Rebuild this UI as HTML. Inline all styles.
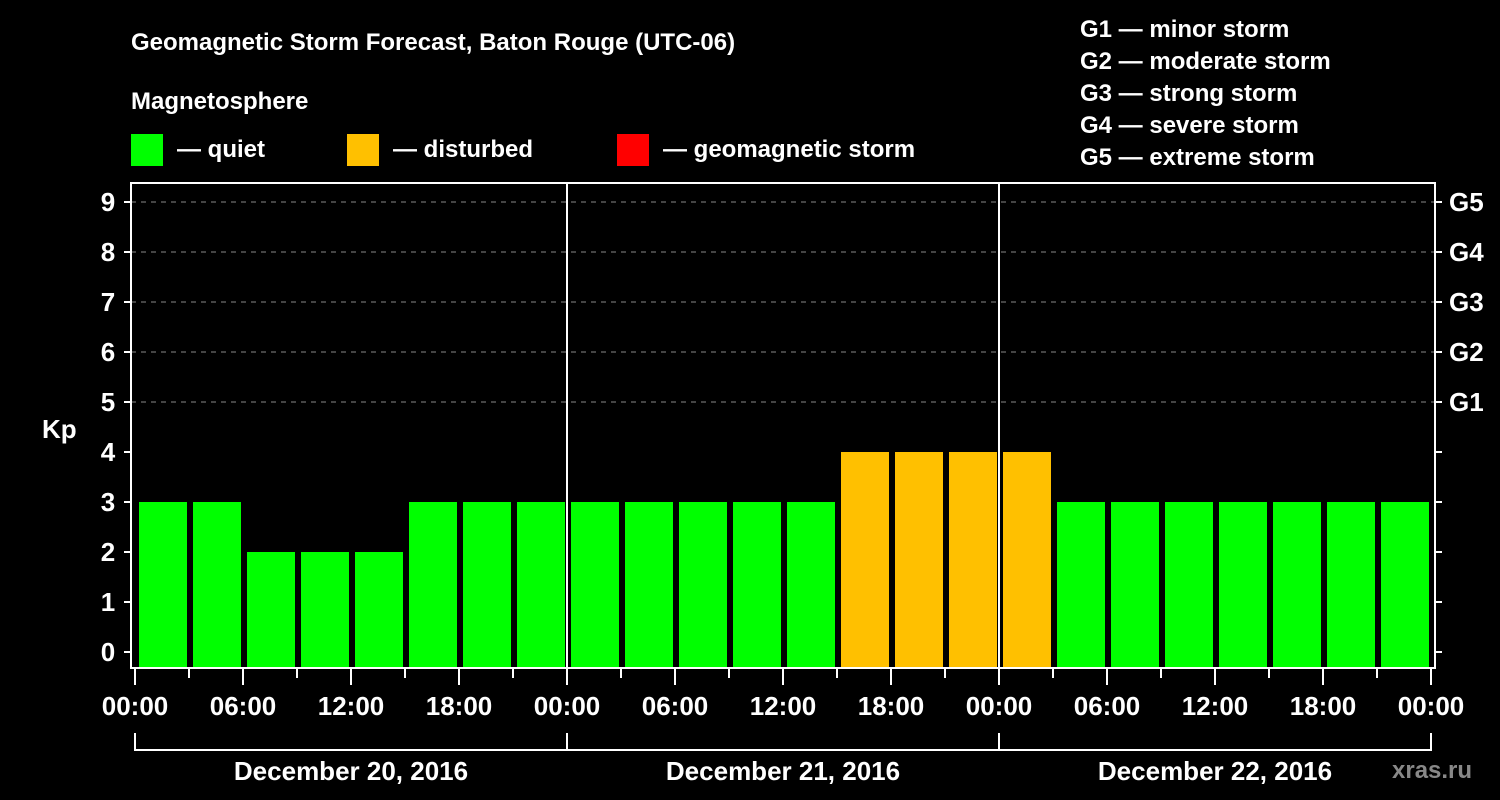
<!DOCTYPE html>
<html><head><meta charset="utf-8"><style>
body{margin:0;background:#000;}
svg{display:block;font-family:"Liberation Sans",Arial,sans-serif;font-weight:bold;}
</style></head><body>
<svg id="chart" width="1500" height="800" viewBox="0 0 1500 800">
<rect width="1500" height="800" fill="#000"/>
<text x="131" y="50" fill="#fff" font-size="24">Geomagnetic Storm Forecast, Baton Rouge (UTC-06)</text>
<text x="131" y="109" fill="#fff" font-size="24">Magnetosphere</text>
<g><rect x="131" y="134" width="32" height="32" fill="#00ff00"/><text x="177" y="157" fill="#fff" font-size="24">— quiet</text></g>
<g><rect x="347" y="134" width="32" height="32" fill="#ffc000"/><text x="393" y="157" fill="#fff" font-size="24">— disturbed</text></g>
<g><rect x="617" y="134" width="32" height="32" fill="#ff0000"/><text x="663" y="157" fill="#fff" font-size="24">— geomagnetic storm</text></g>
<g fill="#fff" font-size="24">
<text x="1080" y="37">G1 — minor storm</text>
<text x="1080" y="69">G2 — moderate storm</text>
<text x="1080" y="101">G3 — strong storm</text>
<text x="1080" y="133">G4 — severe storm</text>
<text x="1080" y="165">G5 — extreme storm</text>
</g>
<text x="42" y="438" fill="#fff" font-size="26">Kp</text>
<text x="1392" y="778" fill="#888" font-size="24">xras.ru</text>
<g id="plot"></g>
</svg>
<script>
const kpValues=[3,3,2,2,2,3,3,3, 3,3,3,3,3,4,4,4, 4,3,3,3,3,3,3,3];
const dayLabels=["December 20, 2016","December 21, 2016","December 22, 2016"];
const timeLabels=["00:00","06:00","12:00","18:00"];
const gLabels=["G1","G2","G3","G4","G5"];
const NS="http://www.w3.org/2000/svg";
const g=document.getElementById('plot');
const X0=135,DAYW=432,SLOT=54;
const xs=i=>X0+i*SLOT;
const ys=v=>652-v*50;
function mk(t,a,txt){const e=document.createElementNS(NS,t);for(const k in a)e.setAttribute(k,a[k]);if(txt!==undefined)e.textContent=txt;g.appendChild(e);return e;}
// grid
for(let v=5;v<=9;v++){const l=mk('line',{x1:131,x2:1435,y1:ys(v),y2:ys(v),stroke:'#888','stroke-width':1,'stroke-dasharray':'5,5'});

}
// bars
kpValues.forEach((v,i)=>{const c=v>=5?'#ff0000':(v>=4?'#ffc000':'#00ff00');
const r=mk('rect',{x:xs(i)+4,y:ys(v),width:48,height:668-ys(v),fill:c});

});
// frame
const f=mk('rect',{x:131,y:183,width:1304,height:485,fill:'none',stroke:'#fff','stroke-width':2});


for(let d=1;d<3;d++){const l=mk('line',{x1:X0+d*DAYW,x2:X0+d*DAYW,y1:183,y2:668,stroke:'#fff','stroke-width':2});

}
// y ticks
for(let v=0;v<=9;v++){mk('line',{x1:124,x2:131,y1:ys(v),y2:ys(v),stroke:'#fff','stroke-width':2});
mk('line',{x1:1435,x2:1442,y1:ys(v),y2:ys(v),stroke:'#fff','stroke-width':2});
const t=mk('text',{x:108,y:ys(v)+9,fill:'#fff','font-size':26,'text-anchor':'middle'},String(v));

}
gLabels.forEach((s,i)=>{const t=mk('text',{x:1449,y:ys(5+i)+9,fill:'#fff','font-size':26},s);

});
// x ticks
for(let i=0;i<=24;i++){const x=xs(i);const major=i%2===0;
mk('line',{x1:x,x2:x,y1:668,y2:major?685:678,stroke:'#fff','stroke-width':2});
if(major){const t=mk('text',{x:x,y:715,fill:'#fff','font-size':26,'text-anchor':'middle'},timeLabels[(i/2)%4]);

}}
// day brackets
mk('line',{x1:X0,x2:X0+3*DAYW,y1:750,y2:750,stroke:'#fff','stroke-width':2});
for(let d=0;d<=3;d++)mk('line',{x1:X0+d*DAYW,x2:X0+d*DAYW,y1:733,y2:751,stroke:'#fff','stroke-width':2});
dayLabels.forEach((s,d)=>{const t=mk('text',{x:X0+d*DAYW+DAYW/2,y:780,fill:'#fff','font-size':26,'text-anchor':'middle'},s);

});
</script>
</body></html>
